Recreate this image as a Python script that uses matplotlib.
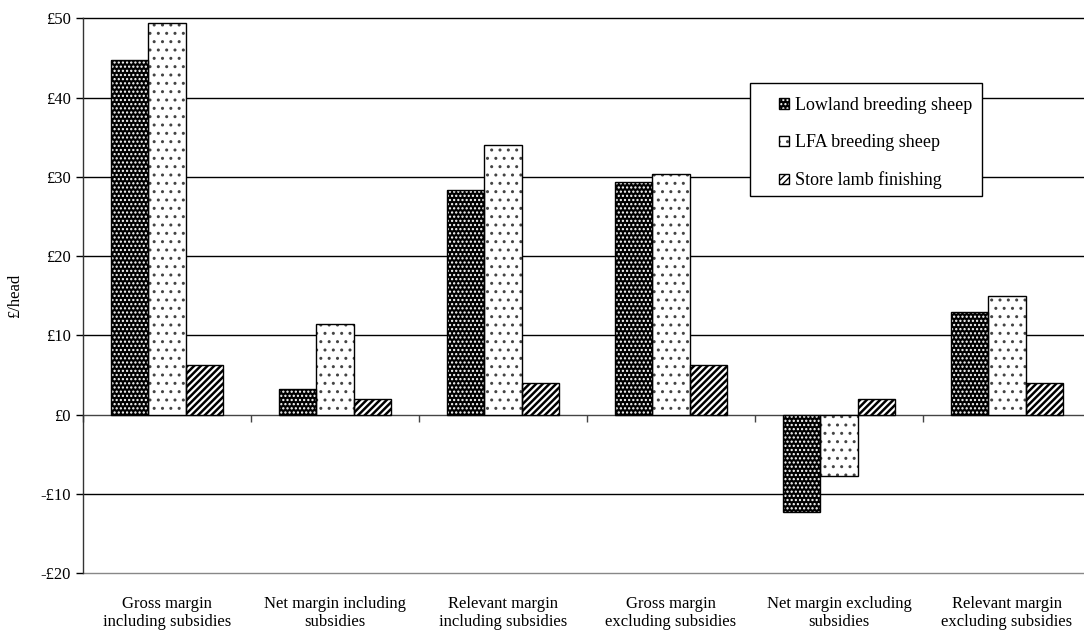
import matplotlib
matplotlib.use("Agg")
import matplotlib.pyplot as plt
import numpy as np
from matplotlib.patches import Patch, Rectangle
from matplotlib.legend_handler import HandlerTuple
from matplotlib.transforms import blended_transform_factory

plt.rcParams["font.family"] = ["Liberation Serif", "DejaVu Serif"]

categories = [
    "Gross margin\nincluding subsidies",
    "Net margin including\nsubsidies",
    "Relevant margin\nincluding subsidies",
    "Gross margin\nexcluding subsidies",
    "Net margin excluding\nsubsidies",
    "Relevant margin\nexcluding subsidies",
]
series_names = ["Lowland breeding sheep", "LFA breeding sheep", "Store lamb finishing"]
lowland = [44.8, 3.2, 28.3, 29.4, -12.3, 12.9]
lfa = [49.4, 11.4, 34.0, 30.3, -7.7, 15.0]
store = [6.3, 2.0, 4.0, 6.3, 2.0, 4.0]
y_ticks = [-20, -10, 0, 10, 20, 30, 40, 50]
y_tick_labels = ["-£20", "-£10", "£0", "£10", "£20", "£30", "£40", "£50"]

# fill colour, hatch colour, hatch pattern, hatch line width for each series
styles = [
    ("black", "white", "....", 1.05),
    ("white", "#444444", "..", 1.0),
    ("white", "black", "/////", 1.8),
]

fig = plt.figure(figsize=(10.84, 6.32), dpi=100)
ax = fig.add_axes([83 / 1084, 58.7 / 632, 1008 / 1084, 555 / 632])

n = len(categories)
x = np.arange(n)
bar_w = 1 / 4.5
offsets = [-bar_w, 0, bar_w]
handles = []
for vals, off, (fc, hc, hatch, hlw), name in zip([lowland, lfa, store], offsets, styles, series_names):
    with plt.rc_context({"hatch.linewidth": hlw}):
        ax.bar(x + off, vals, bar_w, color=fc, edgecolor=hc, hatch=hatch, linewidth=0, zorder=3)
        hp = Patch(facecolor=fc, edgecolor=hc, hatch=hatch, linewidth=0)
    ax.bar(x + off, vals, bar_w, fill=False, edgecolor="black", linewidth=1.0, zorder=4)
    handles.append((hp, Patch(fill=False, edgecolor="black", linewidth=1.0)))

ax.set_xlim(-0.5, n - 0.5)
ax.set_ylim(-20, 50)
ax.set_yticks(y_ticks)
ax.set_yticklabels(y_tick_labels, fontsize=12)
ax.tick_params(axis="y", direction="out", length=5, width=1, pad=4)
ax.set_ylabel("£/head", fontsize=12, labelpad=12)

# horizontal gridlines
for yv in y_ticks:
    if yv == 0:
        continue
    col = "#888888" if yv == -20 else "black"
    ax.axhline(yv, color=col, linewidth=1.0, zorder=1, clip_on=False)

for side in ["top", "right"]:
    ax.spines[side].set_visible(False)
ax.spines["left"].set_linewidth(1.0)
ax.spines["left"].set_color("#333333")
ax.spines["bottom"].set_position(("data", 0))
ax.spines["bottom"].set_color("#444444")
ax.spines["bottom"].set_linewidth(1.0)
ax.spines["bottom"].set_zorder(2)

# category boundaries carry tick marks on the zero line
ax.set_xticks(np.arange(n + 1) - 0.5)
ax.set_xticklabels([])
ax.tick_params(axis="x", direction="out", length=5, width=1, color="#444444")

trans = blended_transform_factory(ax.transData, ax.transAxes)
for xi, label in zip(x, categories):
    ax.text(xi, -0.04, label, transform=trans, ha="center", va="top",
            fontsize=12, linespacing=1.25)

# legend box drawn separately so its padding can be set exactly
ax.add_patch(Rectangle((0.6617, 0.6798), 0.8919 - 0.6617, 0.8834 - 0.6798,
                       transform=ax.transAxes, facecolor="white", edgecolor="black",
                       linewidth=1.0, zorder=5, clip_on=False))
leg = ax.legend(handles, series_names, handler_map={tuple: HandlerTuple(ndivide=1, pad=0)},
                loc="upper left", bbox_to_anchor=(0.6905, 0.858),
                fontsize=13.0, frameon=False, handlelength=0.55, handleheight=0.55,
                handletextpad=0.35, labelspacing=1.12, borderpad=0, borderaxespad=0)
leg.set_zorder(6)

fig.savefig("out.png", dpi=100)
